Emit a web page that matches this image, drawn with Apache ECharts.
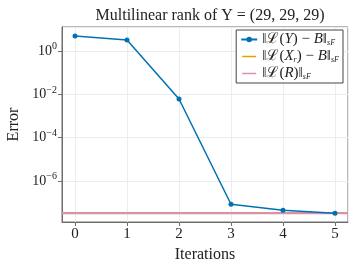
<!DOCTYPE html>
<html><head><meta charset="utf-8">
<script src="https://cdn.jsdelivr.net/npm/echarts@6/dist/echarts.min.js"></script>
<style>html,body{margin:0;padding:0;background:#fff}#c{width:357px;height:268px}</style>
</head><body><div id="c"></div>
<script>
const iterations = [0, 1, 2, 3, 4, 5];
const errY = [4.9, 3.2, 6.0e-3, 8.3e-8, 4.4e-8, 3.2e-8];
const errXr = 3.35e-8;
const errR = 3.2e-8;
const xRange = [-0.25, 5.25];
const yRange = [1.26e-8, 12.6];
const seriesNames = ['LY', 'LXr', 'LR'];
const titleText = 'Multilinear rank of Y = (29, 29, 29)';

const FONT = '"Liberation Serif", "DejaVu Serif", serif';
const legendRich = {
  LY: '{n|‖ℒ(}{i|Y}{n|) − }{i|B}{n|‖}{s|sF}',
  LXr: '{n|‖ℒ(}{i|X}{s|r}{n|) − }{i|B}{n|‖}{s|sF}',
  LR: '{n|‖ℒ(}{i|R}{n|)‖}{s|sF}'
};
const colY = '#0072b2', colXr = '#e69f00', colR = '#d98fb6';
const lineIcon = 'path://M0,0h0.05v0.05h-0.05z M0,3.1h16v1.8h-16z M15.95,7.95h0.05v0.05h-0.05z';
const chart = echarts.init(document.getElementById('c'), null, {renderer: 'canvas'});
const gray = '#6e6e6e';
chart.setOption({
  animation: false,
  backgroundColor: '#fff',
  title: {
    text: titleText, left: 205, top: 3, textAlign: 'center',
    textStyle: {fontFamily: FONT, fontSize: 16, fontWeight: 'normal', color: '#222'}
  },
  grid: {left: 62, right: 9, top: 27, bottom: 46, outerBoundsMode: 'none', show: true, borderColor: gray, borderWidth: 1, backgroundColor: 'transparent'},
  legend: {
    orient: 'vertical', right: 14, top: 30, itemGap: 2, itemWidth: 16, itemHeight: 7,
    padding: [2, 4, 2, 4],
    backgroundColor: '#fff', borderColor: '#444', borderWidth: 1, borderRadius: 0,
    data: [
      {name: 'LY'},
      {name: 'LXr', icon: lineIcon, itemStyle: {color: colXr}},
      {name: 'LR', icon: lineIcon, itemStyle: {color: colR}}
    ],
    formatter: n => legendRich[n],
    textStyle: {
      fontFamily: FONT, color: '#222', fontSize: 15,
      rich: {
        n: {fontFamily: FONT, fontSize: 15, color: '#222'},
        i: {fontFamily: FONT, fontSize: 15, fontStyle: 'italic', color: '#222'},
        s: {fontFamily: FONT, fontSize: 8, fontStyle: 'italic', color: '#222', padding: [7, 0, 0, 0]}
      }
    }
  },
  xAxis: {
    type: 'value', min: xRange[0], max: xRange[1],
    name: 'Iterations', nameLocation: 'middle', nameGap: 22,
    nameTextStyle: {fontFamily: FONT, fontSize: 16, color: '#222'},
    axisLine: {show: true, onZero: false, lineStyle: {color: gray}},
    axisTick: {show: true, inside: false, length: 4, lineStyle: {color: gray}},
    axisLabel: {fontFamily: FONT, fontSize: 15, color: '#222', margin: 5, showMinLabel: false, showMaxLabel: false},
    splitLine: {show: true, lineStyle: {color: '#ececec'}}
  },
  yAxis: {
    type: 'log', logBase: 100, min: yRange[0], max: yRange[1],
    name: 'Error', nameLocation: 'middle', nameGap: 38, nameRotate: 90,
    nameTextStyle: {fontFamily: FONT, fontSize: 16, color: '#222'},
    axisLine: {show: true, onZero: false, lineStyle: {color: gray}},
    axisTick: {show: true, inside: false, length: 4, lineStyle: {color: gray}},
    axisLabel: {
      fontFamily: FONT, fontSize: 14, color: '#222', margin: 5, showMinLabel: false, showMaxLabel: false,
      formatter: v => {
        const e = Math.round(Math.log10(v));
        return '{b|10}{s|' + (e < 0 ? '−' + (-e) : e) + '}';
      },
      rich: {
        b: {fontFamily: FONT, fontSize: 14, color: '#222'},
        s: {fontFamily: FONT, fontSize: 10, color: '#222', padding: [0, 0, 8, 0]}
      }
    },
    splitLine: {show: true, lineStyle: {color: '#ececec'}}
  },
  series: [
    {
      name: 'LY', type: 'line', data: iterations.map((x, i) => [x, errY[i]]),
      color: colY, lineStyle: {width: 1.5, color: colY},
      symbol: 'circle', symbolSize: 5, itemStyle: {color: colY}, z: 4
    },
    {
      name: 'LXr', type: 'line', data: xRange.map(x => [x, errXr]),
      color: colXr, lineStyle: {width: 1.5, color: colXr}, itemStyle: {color: colXr}, symbol: 'none', z: 2
    },
    {
      name: 'LR', type: 'line', data: xRange.map(x => [x, errR]),
      color: colR, lineStyle: {width: 1.8, color: colR}, itemStyle: {color: colR}, symbol: 'none', z: 3
    }
  ]
});
</script></body></html>
